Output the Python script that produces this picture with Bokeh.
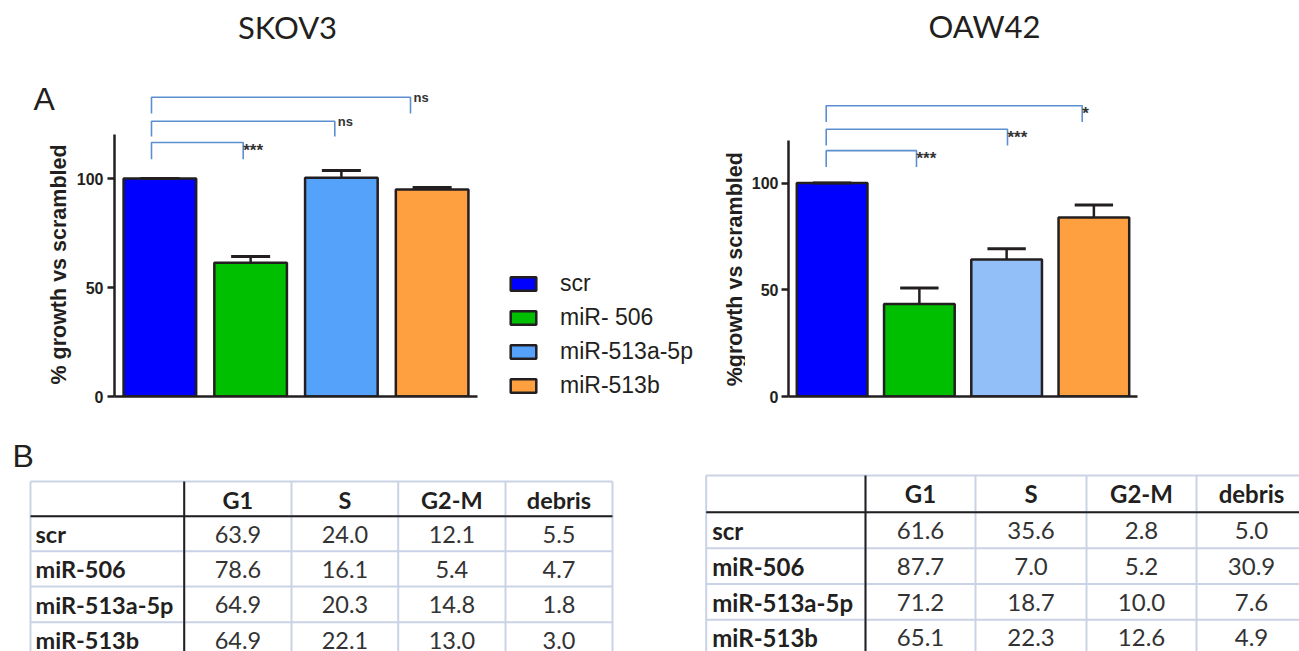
import math
from bokeh.plotting import figure
from bokeh.layouts import column, row
from bokeh.models import (ColumnDataSource, Range1d, Legend, LegendItem, Label,
                          FixedTicker)
from bokeh.core.properties import value
from bokeh.embed import file_html
from bokeh.resources import INLINE

# ---------------- data ----------------
categories = ["scr", "miR-506", "miR-513a-5p", "miR-513b"]
legend_labels = ["scr", "miR- 506", "miR-513a-5p", "miR-513b"]

skov3_growth = [100.0, 61.3, 100.4, 95.0]
skov3_sem = [0.0, 2.9, 3.3, 0.9]
oaw42_growth = [100.0, 43.4, 64.2, 83.9]
oaw42_sem = [0.0, 7.4, 5.1, 5.9]

skov3_signif = ["***", "ns", "ns"]
oaw42_signif = ["***", "***", "*"]

y_ticks = [0, 50, 100]

phases = ["G1", "S", "G2-M", "debris"]
skov3_g1 = [63.9, 78.6, 64.9, 64.9]
skov3_s = [24.0, 16.1, 20.3, 22.1]
skov3_g2m = [12.1, 5.4, 14.8, 13.0]
skov3_debris = [5.5, 4.7, 1.8, 3.0]
oaw42_g1 = [61.6, 87.7, 71.2, 65.1]
oaw42_s = [35.6, 7.0, 18.7, 22.3]
oaw42_g2m = [2.8, 5.2, 10.0, 12.6]
oaw42_debris = [5.0, 30.9, 7.6, 4.9]

# ---------------- style ----------------
INK = "#231f20"
BRACKET = "#5b8fd0"
LIGHT = "#c9d3e5"
skov3_colors = ["#0000ff", "#00bf00", "#55a2fa", "#ffa040"]
oaw42_colors = ["#0000ff", "#00bf00", "#93bff8", "#ffa040"]
AX_FONT = "Liberation Sans"
TAB_FONT = "Lato"
TOP_H = 420


def plain(p):
    p.outline_line_color = None
    p.xgrid.visible = False
    p.ygrid.visible = False
    return p


def label_strip(width, page_left, ylabel, label_x, label_y, panel_letter=None):
    s = plain(figure(width=width, height=TOP_H, output_backend="svg",
                     toolbar_location=None, x_range=Range1d(0, width),
                     y_range=Range1d(0, TOP_H), x_axis_location=None,
                     y_axis_location=None, min_border=0))
    s.text(x=[label_x - page_left], y=[TOP_H - label_y], text=[ylabel],
           angle=math.pi / 2, text_font=value(AX_FONT), text_font_style="bold",
           text_font_size="21.5px", text_color=INK, text_align="center",
           text_baseline="middle")
    if panel_letter:
        s.text(x=[33 - page_left], y=[TOP_H - 104], text=[panel_letter],
               text_font=value(AX_FONT), text_font_size="32px", text_color=INK,
               text_align="left", text_baseline="alphabetic")
    return s


def growth_chart(geo, growth, sem, colors, title, signif, legend=False):
    W = geo["width"]
    fl, fb = geo["frame_left"], geo["frame_bottom"]
    bl = fl - geo["page_left"]
    bb = TOP_H - fb
    ux, uy = geo["ux"], geo["uy"]

    def dx(px):
        return 0.5 + (px - fl) / ux

    def dy(py):
        return (fb - py) / uy

    p = plain(figure(width=W, height=TOP_H, output_backend="svg",
                     toolbar_location=None,
                     x_range=Range1d(0.5, 0.5 + (W - bl) / ux),
                     y_range=Range1d(0, fb / uy),
                     min_border_left=bl, min_border_right=0, min_border_top=0,
                     min_border_bottom=bb))

    x = [1, 2, 3, 4]
    cap = geo["cap"]
    src = ColumnDataSource(dict(
        x=x, top=growth, color=colors,
        err_top=[g + e for g, e in zip(growth, sem)],
        cap_l=[xi - cap / 2 for xi in x], cap_r=[xi + cap / 2 for xi in x]))
    r = p.vbar(x="x", top="top", bottom=0, width=geo["bar_w"], fill_color="color",
               line_color=INK, line_width=2.5, source=src)
    p.segment(x0="x", y0="top", x1="x", y1="err_top", line_color=INK,
              line_width=2.5, source=src)
    p.segment(x0="cap_l", y0="err_top", x1="cap_r", y1="err_top",
              line_color=INK, line_width=3, source=src)

    # significance brackets
    bx_l = dx(geo["br_left"])
    xs, ys = [], []
    for xr, yt, yb in zip(geo["br_right"], geo["br_top"], geo["br_bot"]):
        xs.append([bx_l, bx_l, dx(xr), dx(xr)])
        ys.append([dy(yb), dy(yt), dy(yt), dy(yb)])
    p.multi_line(xs=xs, ys=ys, line_color=BRACKET, line_width=1.6)
    tsrc = ColumnDataSource(dict(
        x=[dx(v) for v in geo["br_right"]], y=[dy(v) for v in geo["br_top"]],
        text=signif,
        xo=[3 if s == "ns" else 0 for s in signif],
        yo=[0 if s == "ns" else 8 for s in signif],
        fs=["13px" if s == "ns" else "17px" for s in signif]))
    p.text(x="x", y="y", text="text", x_offset="xo", y_offset="yo",
           text_font_size="fs", text_font=value(AX_FONT), text_font_style="bold",
           text_color="#333333", text_align="left", text_baseline="alphabetic",
           source=tsrc)

    # axes
    p.yaxis.ticker = FixedTicker(ticks=y_ticks)
    p.yaxis.bounds = (0, 120)
    p.yaxis.axis_line_width = 2.5
    p.yaxis.axis_line_color = INK
    p.yaxis.major_tick_line_width = 2.5
    p.yaxis.major_tick_line_color = INK
    p.yaxis.major_tick_out = 7
    p.yaxis.major_tick_in = 0
    p.yaxis.minor_tick_line_color = None
    p.yaxis.major_label_text_font = AX_FONT
    p.yaxis.major_label_text_font_style = "bold"
    p.yaxis.major_label_text_font_size = "16px"
    p.yaxis.major_label_text_color = INK
    p.yaxis.major_label_standoff = geo["tick_standoff"]

    p.xaxis.ticker = FixedTicker(ticks=[])
    p.xaxis.bounds = (0.5, 4.5)
    p.xaxis.major_label_text_font_size = "0px"
    p.xaxis.major_tick_line_color = None
    p.xaxis.minor_tick_line_color = None
    p.xaxis.axis_line_width = 2.5
    p.xaxis.axis_line_color = INK

    p.add_layout(Label(x=dx(geo["title_x"]), y=dy(26), text=title,
                       text_align="center", text_baseline="alphabetic",
                       text_font=TAB_FONT, text_font_size="31px",
                       text_color=INK))

    if legend:
        items = [LegendItem(label=legend_labels[i], renderers=[r], index=i)
                 for i in range(len(legend_labels))]
        lg = Legend(items=items, location=(393, -3), orientation="vertical",
                    glyph_width=32, glyph_height=17, label_height=26,
                    label_standoff=21, spacing=7, padding=0, margin=0,
                    border_line_color=None, background_fill_alpha=0,
                    label_text_font=AX_FONT, label_text_font_size="23px",
                    label_text_color=INK)
        p.add_layout(lg)
    return p


LEFT = dict(width=628, page_left=72, frame_left=114, frame_bottom=396,
            ux=90.75, uy=2.18, bar_w=0.8, cap=0.43, tick_standoff=4,
            br_left=151, br_right=[242.7, 334.3, 410], br_top=[142, 120.7, 96.7],
            br_bot=[158.7, 136, 113], title_x=287)
RIGHT = dict(width=554, page_left=745, frame_left=788, frame_bottom=399,
             ux=87.25, uy=2.15, bar_w=0.81, cap=0.44, tick_standoff=3,
             br_left=825.7, br_right=[916, 1007, 1081.7], br_top=[151.3, 129.7, 106],
             br_bot=[167.7, 146, 122.3], title_x=984)

s1 = label_strip(72, 0, "% growth vs scrambled", 58.5, 280, panel_letter="A")
p1 = growth_chart(LEFT, skov3_growth, skov3_sem, skov3_colors, "SKOV3",
                  skov3_signif, legend=True)
s2 = label_strip(45, 700, "%growth vs scrambled", 734, 285)
p2 = growth_chart(RIGHT, oaw42_growth, oaw42_sem, oaw42_colors, "OAW42",
                  oaw42_signif)

# ---------------- tables ----------------
TAB_TOP = TOP_H
pt = plain(figure(width=1299, height=651 - TAB_TOP, output_backend="svg",
                  toolbar_location=None, x_range=Range1d(0, 1299),
                  y_range=Range1d(651, TAB_TOP), x_axis_location=None,
                  y_axis_location=None, min_border=0))


def draw_table(p, col_edges, row_edges, columns, font_px, name_off):
    n_r = len(row_edges)
    n_c = len(col_edges)
    p.segment(x0=[col_edges[0]] * n_r, y0=row_edges, x1=[col_edges[-1]] * n_r,
              y1=row_edges, line_color=LIGHT, line_width=2)
    p.segment(x0=col_edges, y0=[row_edges[0]] * n_c, x1=col_edges,
              y1=[row_edges[-1]] * n_c, line_color=LIGHT, line_width=2)
    p.segment(x0=[col_edges[0]], y0=[row_edges[1]], x1=[col_edges[-1]],
              y1=[row_edges[1]], line_color=INK, line_width=2)
    p.segment(x0=[col_edges[1]], y0=[row_edges[0]], x1=[col_edges[1]],
              y1=[row_edges[-1]], line_color=INK, line_width=2)
    centers = [(a + b) / 2 for a, b in zip(col_edges[1:-1], col_edges[2:])]
    fs = f"{font_px}px"
    base = [e + 18 for e in row_edges[:-1]]
    p.text(x=centers, y=[base[0]] * len(centers), text=phases,
           text_font=value(TAB_FONT), text_font_style="bold", text_font_size=fs,
           text_color=INK, text_align="center", text_baseline="alphabetic")
    p.text(x=[col_edges[0] + name_off] * len(categories), y=base[1:],
           text=categories, text_font=value(TAB_FONT), text_font_style="bold",
           text_font_size=fs, text_color=INK, text_align="left",
           text_baseline="alphabetic")
    for cx, col in zip(centers, columns):
        p.text(x=[cx] * len(col), y=base[1:],
               text=[f"{v:.1f}" for v in col], text_font=value(TAB_FONT),
               text_font_size=fs, text_color="#333333", text_align="center",
               text_baseline="alphabetic")


draw_table(pt, [30, 183.7, 291, 397.7, 505, 612],
           [481, 515.7, 550.7, 586, 621.7, 657],
           [skov3_g1, skov3_s, skov3_g2m, skov3_debris], 23.5, 5)
draw_table(pt, [705.7, 865, 975, 1086, 1196, 1306],
           [475, 511.7, 547.7, 583.5, 619.3, 655],
           [oaw42_g1, oaw42_s, oaw42_g2m, oaw42_debris], 24, 6)
pt.text(x=[12], y=[455], text=["B"], text_font=value(AX_FONT),
        text_font_size="32px", text_color=INK, text_align="left",
        text_baseline="alphabetic")

layout = column(row(s1, p1, s2, p2), pt)
open("out.html", "w").write(file_html(layout, INLINE))
